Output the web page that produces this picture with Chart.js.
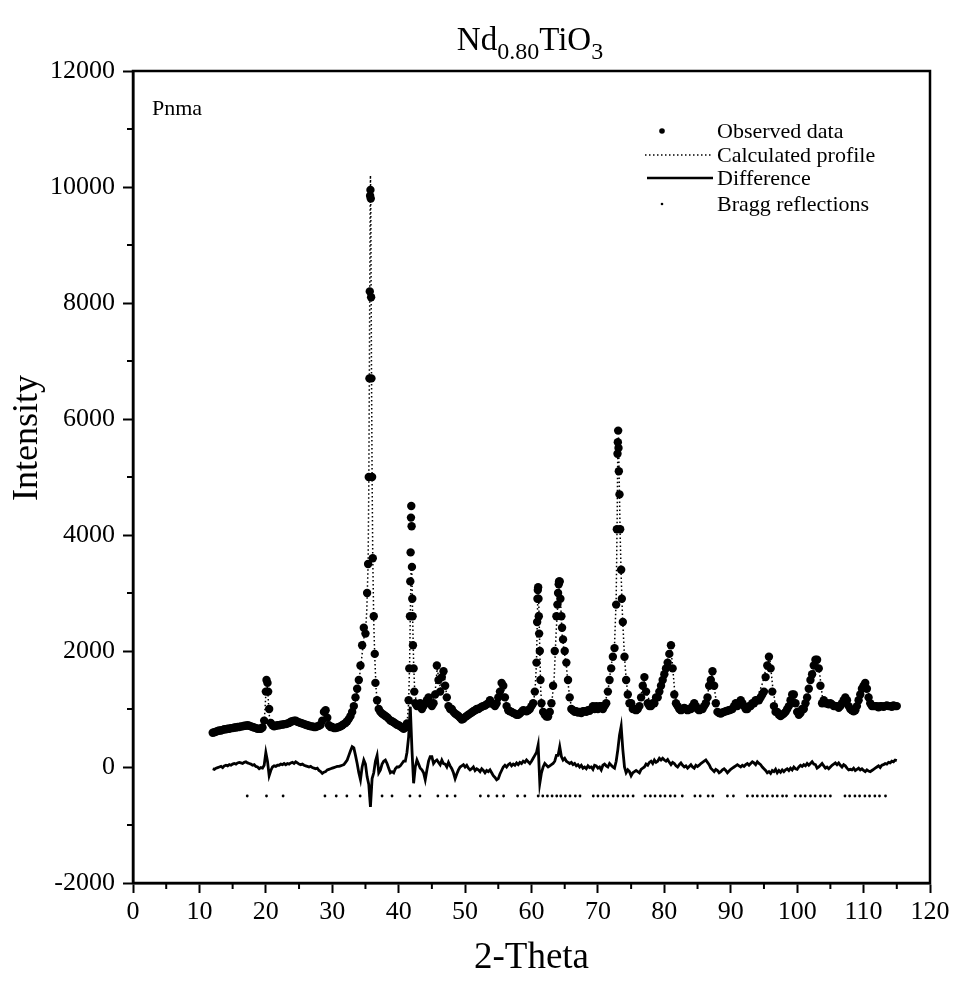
<!DOCTYPE html>
<html>
<head>
<meta charset="utf-8">
<title>Nd0.80TiO3 refinement</title>
<script src="https://cdn.jsdelivr.net/npm/chart.js@4.4.1/dist/chart.umd.min.js"></script>
<style>
  html, body { margin: 0; padding: 0; background: #fff; }
  #plot { display: block; }
</style>
</head>
<body>
<canvas id="plot" width="956" height="983"></canvas>
<script>
const SERIF = "'Liberation Serif', 'Times New Roman', serif";

// observed scan, 12..115 deg in 0.25 deg steps (one row per degree)
const OBS_START = 12;
const OBS_STEP = 0.25;
const obsCounts = [
  590, 600, 610, 620,   630, 630, 640, 650,   650, 660, 660, 670,   670, 680, 680, 690,
  690, 700, 700, 710,   710, 720, 710, 700,   690, 680, 670, 660,   660, 660, 680, 800,
  1300, 1450, 1000, 760, 720, 700, 710, 720,  720, 730, 730, 740,   740, 750, 760, 780,
  790, 800, 800, 780,   770, 760, 750, 740,   730, 720, 710, 700,   700, 690, 690, 700,
  710, 730, 800, 950,   980, 850, 720, 690,   690, 670, 670, 680,   690, 700, 720, 740,
  760, 790, 830, 880,   950, 1050, 1200, 1350, 1500, 1750, 2100, 2400, 2300, 3000, 5000, 9950,
  5000, 2600, 1450, 1150, 1000, 950, 920, 900, 880, 860, 830, 800,   790, 770, 750, 730,
  720, 700, 680, 660,   680, 750, 1150, 3200, 3450, 1700, 1100, 1050, 1050, 1100, 1000, 1050,
  1100, 1150, 1200, 1100, 1050, 1100, 1250, 1750, 1500, 1300, 1550, 1650, 1400, 1200, 1050, 1000,
  1000, 950, 920, 900,  880, 850, 820, 830,   860, 880, 900, 920,   940, 960, 980, 1000,
  1000, 1020, 1040, 1050, 1060, 1080, 1100, 1150, 1100, 1080, 1050, 1100, 1200, 1300, 1450, 1400,
  1200, 1050, 980, 960, 950, 930, 920, 900,   900, 920, 950, 980,   970, 960, 980, 1000,
  1050, 1100, 1300, 1800, 3100, 2000, 1100, 950, 900, 870, 870, 950, 1100, 1400, 2000, 2600,
  3000, 3200, 2600, 2200, 2000, 1800, 1500, 1200, 1000, 980, 950, 960, 940, 950, 930, 960,
  960, 950, 980, 970,   1000, 1050, 1000, 1050, 1000, 1050, 1050, 1000, 1050, 1100, 1300, 1500,
  1700, 1900, 2050, 2800, 5600, 4700, 3400, 2500, 1900, 1500, 1250, 1100, 1100, 1000, 1000, 980,
  1000, 1050, 1200, 1400, 1550, 1300, 1100, 1050, 1050, 1100, 1100, 1200, 1200, 1300, 1400, 1500,
  1600, 1700, 1800, 1950, 2100, 1700, 1250, 1100, 1050, 1000, 980, 1000, 1020, 1000, 980, 1000,
  1000, 1050, 1100, 1050, 1000, 980, 1000, 1000, 1050, 1100, 1200, 1400, 1500, 1650, 1400, 1100,
  950, 930, 920, 940,   950, 960, 970, 980,   990, 1000, 1050, 1100, 1050, 1100, 1150, 1100,
  1050, 1000, 1000, 1050, 1050, 1100, 1100, 1150, 1150, 1150, 1200, 1250, 1300, 1550, 1750, 1900,
  1700, 1300, 1050, 950, 950, 900, 880, 900,   920, 950, 1000, 1050, 1150, 1250, 1250, 1100,
  950, 900, 930, 1000,  1000, 1100, 1200, 1350, 1500, 1600, 1750, 1850, 1850, 1700, 1400, 1100,
  1150, 1100, 1100, 1080, 1100, 1080, 1050, 1050, 1050, 1020, 1050, 1100, 1150, 1200, 1150, 1050,
  1000, 980, 960, 980,  1050, 1150, 1250, 1350, 1400, 1450, 1350, 1200, 1100, 1050, 1050, 1050,
  1050, 1030, 1050, 1050, 1040, 1050, 1060, 1050, 1050, 1040, 1060, 1050,
  1050
];

// extra observed points on the steep reflections
const obsPeakTheta = [
  20.1, 20.35,
  35.4, 35.6, 35.65, 35.7, 35.8, 35.85, 35.9, 36.1, 36.4,
  41.6, 41.7, 41.8, 41.85, 41.9, 41.95, 42.05, 42.1, 42.15, 42.35,
  60.85, 60.9, 60.95, 61.05, 61.1, 61.15, 61.35,
  63.9, 64.1, 64.15, 64.35, 64.6,
  72.85, 72.95, 73.05, 73.1, 73.15, 73.35, 73.6
];
const obsPeakCounts = [
  1500, 1300,
  3500, 6700, 8200, 9850, 9800, 8100, 6700, 3600, 1950,
  1700, 2600, 3700, 4300, 4500, 4150, 2900, 2600, 2100, 1300,
  2500, 2900, 3050, 2900, 2600, 2300, 1500,
  2800, 3150, 3200, 2900, 2400,
  4100, 5400, 5800, 5500, 5100, 4100, 2900
];

// calculated profile
const calcTheta = [
  12, 14, 16, 17, 18, 19, 19.5, 19.8, 20.0, 20.15, 20.3, 20.45, 20.6, 21, 22, 23, 24, 25, 26, 27,
  28, 28.5, 28.8, 29.0, 29.3, 29.6, 30, 31, 32, 33, 33.5, 34, 34.5, 34.8, 35.0, 35.2, 35.4, 35.5,
  35.6, 35.7, 35.75, 35.8, 35.9, 36.0, 36.1, 36.25, 36.4, 36.6, 36.8, 37.0, 38, 39, 40, 41, 41.3,
  41.5, 41.65, 41.75, 41.85, 41.9, 42.0, 42.1, 42.25, 42.4, 42.6, 43, 44, 45, 45.5, 45.8, 46.0,
  46.3, 46.6, 46.9, 47.2, 47.6, 48, 49, 50, 51, 52, 53, 54, 54.8, 55.3, 55.6, 55.9, 56.3, 57, 58,
  59, 60, 60.5, 60.75, 60.9, 61.0, 61.1, 61.25, 61.4, 61.6, 62, 62.5, 63, 63.4, 63.7, 64.0, 64.2,
  64.4, 64.6, 64.9, 65.2, 65.5, 65.8, 66.2, 67, 68, 69, 70, 71, 71.5, 72, 72.5, 72.75, 72.9, 73.0,
  73.1, 73.2, 73.35, 73.5, 73.7, 74.0, 74.3, 74.6, 75, 75.8, 76.5, 77.0, 77.4, 78, 78.8, 79.5, 80,
  80.5, 80.9, 81.2, 81.6, 82, 83, 84, 85, 86, 86.7, 87.2, 87.6, 88, 89, 90, 91, 92, 93, 94, 94.8,
  95.5, 95.9, 96.3, 96.8, 97.5, 98.5, 99.2, 99.5, 99.9, 100.5, 101, 101.8, 102.5, 103.0, 103.4,
  103.8, 104.3, 105, 106, 107, 107.5, 108, 108.8, 109.5, 110.2, 110.7, 111.2, 112, 113, 114, 115
];
const calcCounts = [
  600, 650, 690, 710, 685, 665, 690, 850, 1250, 1420, 1300, 1000, 780, 715, 725, 750, 795, 760, 720, 695,
  710, 780, 940, 960, 800, 700, 680, 700, 770, 950, 1150, 1450, 1950, 2250, 2300, 2700, 3500, 4800,
  7000, 9600, 10200, 9900, 7000, 5000, 3600, 2500, 1900, 1350, 1100, 1000, 850, 760, 690, 690, 800,
  1100, 1800, 2600, 3300, 3500, 3300, 2600, 1800, 1350, 1150, 1050, 1130, 1100, 1300, 1700, 1550,
  1350, 1600, 1550, 1250, 1050, 980, 850, 880, 950, 1020, 1070, 1070, 1150, 1350, 1420, 1300, 1050, 930, 920,
  970, 1050, 1250, 1800, 2700, 3050, 2800, 2000, 1300, 1000, 900, 870, 1050, 1500, 2300, 2900, 3150,
  2800, 2300, 2000, 1800, 1450, 1150, 980, 950, 960, 1010, 1030, 1080, 1300, 1750, 2100, 2900, 4300, 5600,
  5700, 5000, 4000, 3300, 2600, 1900, 1450, 1200, 1080, 990, 1250, 1500, 1250, 1070, 1200, 1400, 1600,
  1850, 2100, 1800, 1250, 1050, 1000, 1050, 1000, 1070, 1350, 1600, 1300, 1000, 950, 1020, 1120, 1020, 1080, 1200, 1450,
  1800, 1850, 1400, 1000, 890, 980, 1200, 1230, 1080, 930, 1000, 1300, 1650, 1850, 1600,
  1200, 1100, 1080, 1050, 1150, 1170, 1000, 1000, 1250, 1420, 1300, 1080, 1040, 1050, 1050, 1050
];

// observed minus calculated, 12..115 deg in 0.25 deg steps
const DIFF_START = 12;
const DIFF_STEP = 0.25;
const diffCounts = [
  -30, -40, -20, -10,  0, 10, -10, 20,   30, 20, 40, 30,    50, 60, 50, 70,
  80, 70, 60, 80,      90, 70, 60, 50,   30, 40, 10, 0,     -30, -10, -20, 30,
  250, 100, -150, -60, 0, 20, 10, 30,    30, 50, 40, 60,    40, 60, 50, 70,
  80, 60, 90, 70,      50, 40, 50, 30,   20, 10, 0, 10,     -10, -20, -30, -20,
  -60, -80, -110, -90, -80, -50, -40, -30, -20, -10, 0, 10, 10, 20, 30, 40,
  80, 120, 200, 280,   350, 330, 200, 60, -100, -220, 0, 120, 50, -170, -300, -690,
  -200, -100, 100, 200, -100, -50, 50, 100, 120, 60, -20, -100, -80, -100, -30, 0,
  0, 20, 60, 100,      100, 250, 520, 1040, 300, -280, 0, 120, 50, -20, -50, -100,
  -220, -50, 100, 180, 180, 60, 100, 120, 80, 40, 120, 60,   50, 0, 80, 20,
  -30, -100, -200, -120, -50, 0, 20, 40,  0, 30, -20, -50,  -30, 0, -60, -30,
  -50, -80, -30, -60,  -100, -60, -80, -50, -100, -150, -180, -220, -200, -120, -60, 0,
  30, 0, 40, 60,       20, 50, 30, 70,   40, 80, 60, 100,   80, 120, 90, 60,
  100, 150, 200, 250,  380, -280, -100, 0, 60, 30, 0, 20,   40, 60, 100, 200,
  200, 350, 180, 120,  150, 100, 80, 60, 80, 40, 60, 20,    40, 0, 30, -20,
  0, -30, 20, -10,     0, -40, 30, 20,   -20, 0, -50, 30,   50, 20, 0, 60,
  30, 0, -20, 100,     300, 550, 700, 300, 0, -100, -50, -80, -150, -100, -80, -60,
  -80, -100, -40, -20, 0, 50, 30, 80,    100, 60, 120, 80,  100, 150, 120, 150,
  120, 100, 130, 80,   40, 80, 60, 20,   0, 40, 70, 30,     0, 20, -20, 10,
  40, 0, -20, 30,      10, 30, 60, 80,   100, 120, 80, 40,  -20, -50, -80, -40,
  -60, -100, -80, -50, -30, -60, -100, -70, -40, -20, 0, 20, 40, 20, 0, 30,
  10, 40, 60, 30,      60, 90, 70, 40,   90, 60, 40, 0,     -30, -60, -100, -80,
  -110, -60, -80, -40, -100, -60, -90, -50, -80, -50, -30, -60, -20, -50, 0, -30,
  -40, 0, 30, 10,      40, 20, 60, 30,   60, 90, 50, 40,    -20, 0, 30, 60,
  20, -20, 0, -30,     0, 30, 50, 70,    40, 70, 30, 0,     40, 20, -20, -50,
  -40, -50, -20, -60,  -40, -20, -50, -30, -60, -80, -50, -70, -80, -60, -40, -20,
  0, 20, -10, 30,      40, 60, 50, 80,   70, 100, 90, 120,
  110
];

// Bragg reflection positions, drawn as a row of ticks below the difference curve
const braggTheta = [
  17.2, 20.1, 22.6, 28.9, 30.6, 32.2, 34.2, 35.7, 37.5, 39.0, 41.7, 43.2, 45.9, 47.3, 48.5,
  52.3, 53.5, 54.8, 55.8, 57.9, 59.0, 61.0, 61.7, 62.4, 63.1, 63.8, 64.4, 65.1, 65.8, 66.6,
  67.3, 69.3, 70.0, 70.8, 71.5, 72.3, 73.0, 73.8, 74.5, 75.3, 77.1, 77.9, 78.6, 79.4, 80.1,
  80.9, 81.6, 82.7, 84.6, 85.4, 86.6, 87.3, 89.5, 90.4, 92.5, 93.3, 94.0, 94.8, 95.5, 96.3,
  97.0, 97.8, 98.4, 99.7, 100.5, 101.2, 102.0, 102.7, 103.5, 104.2, 105.0, 107.2, 107.9,
  108.7, 109.4, 110.2, 110.9, 111.7, 112.4, 113.3
];
const BRAGG_LEVEL = -500;

const xMinor = [5, 15, 25, 35, 45, 55, 65, 75, 85, 95, 105, 115];
const yMinor = [-1000, 1000, 3000, 5000, 7000, 9000, 11000];

const legendRows = ['Observed data', 'Calculated profile', 'Difference', 'Bragg reflections'];

// ─── build point lists ─────────────────────────────────────

const obsPoints = obsCounts
  .map((y, i) => ({ x: OBS_START + i * OBS_STEP, y }))
  .concat(obsPeakTheta.map((x, i) => ({ x, y: obsPeakCounts[i] })))
  .sort((a, b) => a.x - b.x);
const calcPoints = calcTheta.map((x, i) => ({ x, y: calcCounts[i] }));
const diffPoints = diffCounts.map((y, i) => ({ x: DIFF_START + i * DIFF_STEP, y }));
const braggPoints = braggTheta.map(x => ({ x, y: BRAGG_LEVEL }));

// ─── plugins ───────────────────────────────────────────────

// box round the plot plus the short minor ticks
const frameTicks = {
  id: 'frameTicks',
  afterDraw(chart) {
    const { ctx, chartArea: a, scales: { x, y } } = chart;
    ctx.save();
    ctx.strokeStyle = '#000';
    ctx.lineWidth = 2.5;
    ctx.strokeRect(a.left, a.top, a.right - a.left, a.bottom - a.top);
    ctx.lineWidth = 2;
    ctx.beginPath();
    xMinor.forEach(v => {
      const px = x.getPixelForValue(v);
      ctx.moveTo(px, a.bottom);
      ctx.lineTo(px, a.bottom + 6);
    });
    yMinor.forEach(v => {
      const py = y.getPixelForValue(v);
      ctx.moveTo(a.left - 6, py);
      ctx.lineTo(a.left, py);
    });
    ctx.stroke();
    ctx.restore();
  }
};

// formula title with subscripts, axis name, phase label and the key
const annotations = {
  id: 'annotations',
  afterDraw(chart) {
    const { ctx } = chart;
    ctx.save();
    ctx.fillStyle = '#000';
    ctx.textBaseline = 'alphabetic';

    const parts = [
      { t: 'Nd', size: 33, dy: 0 },
      { t: '0.80', size: 24, dy: 9 },
      { t: 'TiO', size: 33, dy: 0 },
      { t: '3', size: 24, dy: 9 },
    ];
    let total = 0;
    parts.forEach(p => { ctx.font = `${p.size}px ${SERIF}`; p.w = ctx.measureText(p.t).width; total += p.w; });
    let cx = 530 - total / 2;
    parts.forEach(p => {
      ctx.font = `${p.size}px ${SERIF}`;
      ctx.fillText(p.t, cx, 50 + p.dy);
      cx += p.w;
    });

    // vertical axis name
    ctx.save();
    ctx.translate(28, 438);
    ctx.rotate(-Math.PI / 2);
    ctx.font = `36px ${SERIF}`;
    ctx.textAlign = 'center';
    ctx.textBaseline = 'middle';
    ctx.fillText('Intensity', 0, 0);
    ctx.restore();

    ctx.font = `22px ${SERIF}`;
    ctx.fillText('Pnma', 152, 115);

    // key
    ctx.font = `22px ${SERIF}`;
    const rowY = [131, 155, 178, 204];
    const tx = 717;
    legendRows.forEach((label, i) => ctx.fillText(label, tx, rowY[i] + 7));

    ctx.beginPath();
    ctx.arc(662, rowY[0], 2.8, 0, Math.PI * 2);
    ctx.fill();

    ctx.strokeStyle = '#000';
    ctx.lineWidth = 1.5;
    ctx.setLineDash([1.5, 2.5]);
    ctx.beginPath();
    ctx.moveTo(645, rowY[1]);
    ctx.lineTo(713, rowY[1]);
    ctx.stroke();

    ctx.setLineDash([]);
    ctx.lineWidth = 2.5;
    ctx.beginPath();
    ctx.moveTo(647, rowY[2]);
    ctx.lineTo(713, rowY[2]);
    ctx.stroke();

    ctx.beginPath();
    ctx.arc(662, rowY[3], 1.3, 0, Math.PI * 2);
    ctx.fill();
    ctx.restore();
  }
};

// ─── chart ─────────────────────────────────────────────────

new Chart(document.getElementById('plot'), {
  type: 'scatter',
  data: {
    datasets: [
      {
        label: 'Calculated profile',
        data: calcPoints,
        showLine: true,
        borderColor: '#000',
        borderWidth: 1.5,
        borderDash: [1.5, 2.5],
        pointRadius: 0,
        tension: 0,
      },
      {
        label: 'Observed data',
        data: obsPoints,
        showLine: false,
        pointRadius: 4.2,
        pointBackgroundColor: '#000',
        pointBorderWidth: 0,
      },
      {
        label: 'Difference',
        data: diffPoints,
        showLine: true,
        borderColor: '#000',
        borderWidth: 2.8,
        pointRadius: 0,
        tension: 0,
      },
      {
        label: 'Bragg reflections',
        data: braggPoints,
        showLine: false,
        pointRadius: 1.4,
        pointBackgroundColor: '#000',
        pointBorderWidth: 0,
      },
    ],
  },
  options: {
    responsive: false,
    animation: false,
    events: [],
    layout: { padding: { top: 71, right: 26, bottom: 0, left: 0 }, autoPadding: false },
    plugins: {
      legend: { display: false },
      tooltip: { enabled: false },
    },
    scales: {
      x: {
        type: 'linear',
        min: 0,
        max: 120,
        afterFit: s => { s.height = 100; },
        ticks: {
          stepSize: 10,
          padding: 4,
          color: '#000',
          font: { size: 26, family: SERIF },
          maxRotation: 0,
          callback: v => String(v),
        },
        grid: { drawOnChartArea: false, tickLength: 10, tickWidth: 2, tickColor: '#000' },
        border: { display: true, color: '#000', width: 2.5 },
        title: {
          display: true,
          text: '2-Theta',
          color: '#000',
          font: { size: 37, family: SERIF },
          padding: { top: 0, bottom: 3 },
        },
      },
      y: {
        type: 'linear',
        min: -2000,
        max: 12000,
        afterFit: s => { s.width = 133; },
        ticks: {
          stepSize: 2000,
          padding: 8,
          color: '#000',
          font: { size: 26, family: SERIF },
          callback: v => String(v),
        },
        grid: { drawOnChartArea: false, tickLength: 10, tickWidth: 2, tickColor: '#000' },
        border: { display: true, color: '#000', width: 2.5 },
        title: { display: false },
      },
    },
  },
  plugins: [frameTicks, annotations],
});
</script>
</body>
</html>
